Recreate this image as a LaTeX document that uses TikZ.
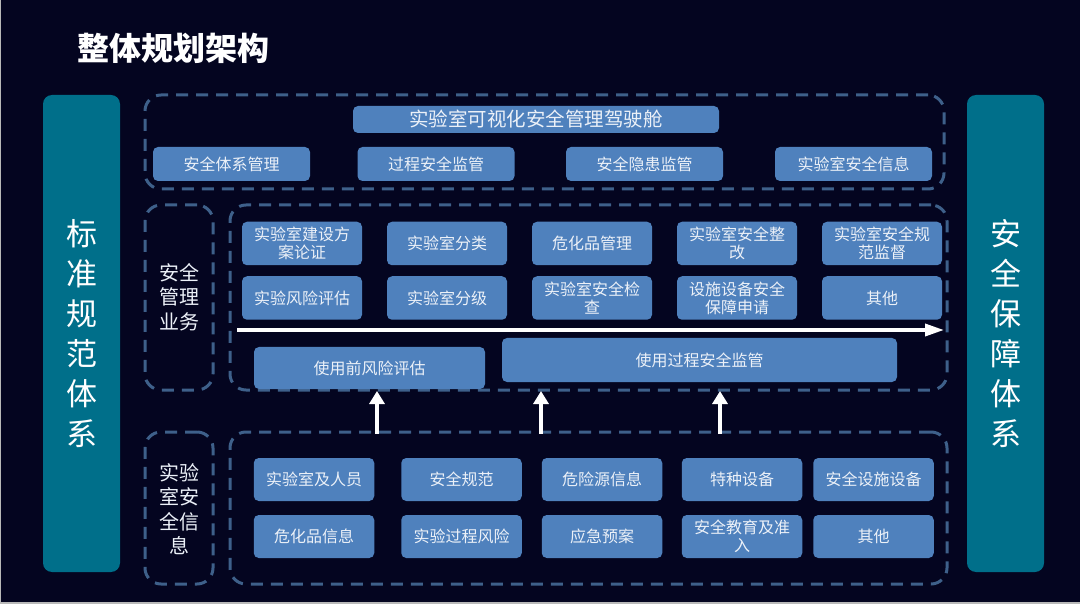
\documentclass[tikz,border=0pt]{standalone}
\usepackage{fontspec}
\setmainfont{Noto Sans CJK SC}
\usetikzlibrary{arrows.meta}
\definecolor{bgc}{RGB}{4,5,32}
\definecolor{tealc}{RGB}{0,111,138}
\definecolor{boxc}{RGB}{79,129,189}
\definecolor{dashc}{RGB}{62,96,138}
\definecolor{txtc}{RGB}{236,241,248}
\tikzset{
  dashbox/.style={draw=dashc, line width=3pt, dash pattern=on 12pt off 8pt, rounded corners=16pt, inner sep=0pt},
  bbox/.style={fill=boxc, rounded corners=5pt, inner sep=0pt, text=txtc, align=center, font=\fontsize{16}{18}\selectfont},
  sidebar/.style={fill=tealc, rounded corners=9pt, inner sep=0pt, text=white, align=center, font=\fontsize{31}{40}\selectfont, minimum width=77pt, minimum height=477pt},
  lbl/.style={text=txtc, align=center, inner sep=0pt, font=\fontsize{20}{24.5}\selectfont},
  wharrow/.style={draw=white, line width=3.5pt, -{Triangle[length=19pt,width=12pt]}},
  uparrow/.style={draw=white, line width=4.5pt, -{Triangle[length=13pt,width=15pt]}}
}
\begin{document}
\begin{tikzpicture}[x=1pt,y=-1pt]
\useasboundingbox (0,0) rectangle (1080,604);
\fill[bgc] (0,0) rectangle (1080,604);
\fill[gray!55] (0,0) rectangle (1.3,604);
\fill[gray!55] (0,601.8) rectangle (1080,604);

% title
\node[text=white, inner sep=0pt, anchor=west, font=\fontsize{32}{36}\selectfont\bfseries] (title) at (77,48) {整体规划架构};

% side bars
\node[sidebar] (left) at (81.5,333.5) {标\\准\\规\\范\\体\\系};
\node[sidebar] (right) at (1005.5,333.5) {安\\全\\保\\障\\体\\系};

% dashed groups
\node[dashbox, minimum width=799pt, minimum height=94pt] (top) at (544.5,142) {};
\node[dashbox, minimum width=68pt, minimum height=185pt] (lab1) at (179,297.5) {};
\node[dashbox, minimum width=717pt, minimum height=185pt] (mid) at (588.5,297.5) {};
\node[dashbox, minimum width=68pt, minimum height=152pt] (lab2) at (179,508) {};
\node[dashbox, minimum width=717pt, minimum height=152pt] (bot) at (588.5,508) {};

\node[lbl] (lab1t) at (179,297) {安全\\管理\\业务};
\node[lbl] (lab2t) at (179,509) {实验\\室安\\全信\\息};

% top group
\node[bbox, minimum width=366pt, minimum height=27pt, font=\fontsize{19.5}{22}\selectfont] (cockpit) at (536,119.5) {实验室可视化安全管理驾驶舱};
\tikzset{tb/.style={bbox, minimum width=157pt, minimum height=34pt}}
\node[tb] (t1) at (231.5,164) {安全体系管理};
\node[tb] (t2) at (436,164) {过程安全监管};
\node[tb] (t3) at (644.5,164) {安全隐患监管};
\node[tb] (t4) at (853.5,164) {实验室安全信息};

% middle group
\tikzset{mb/.style={bbox, minimum width=120pt, minimum height=43.5pt}}
\node[mb] (m11) at (302,243.5) {实验室建设方\\案论证};
\node[mb] (m12) at (447,243.5) {实验室分类};
\node[mb] (m13) at (592,243.5) {危化品管理};
\node[mb] (m14) at (737,243.5) {实验室安全整\\改};
\node[mb] (m15) at (882,243.5) {实验室安全规\\范监督};
\node[mb] (m21) at (302,298) {实验风险评估};
\node[mb] (m22) at (447,298) {实验室分级};
\node[mb] (m23) at (592,298) {实验室安全检\\查};
\node[mb] (m24) at (737,298) {设施设备安全\\保障申请};
\node[mb] (m25) at (882,298) {其他};

\coordinate (hs) at (237,330);
\coordinate (he) at (944,330);
\draw[wharrow] (hs) -- (he);

\node[bbox, minimum width=231pt, minimum height=42pt] (pre) at (369.5,368) {使用前风险评估};
\node[bbox, minimum width=395pt, minimum height=44pt] (use) at (699.5,360) {使用过程安全监管};

% bottom group
\tikzset{lb/.style={bbox, minimum width=120.5pt, minimum height=43pt}}
\node[lb] (b11) at (314,479.5) {实验室及人员};
\node[lb] (b12) at (461.5,479.5) {安全规范};
\node[lb] (b13) at (602,479.5) {危险源信息};
\node[lb] (b14) at (742,479.5) {特种设备};
\node[lb] (b15) at (873.5,479.5) {安全设施设备};
\node[lb] (b21) at (314,536.5) {危化品信息};
\node[lb] (b22) at (461.5,536.5) {实验过程风险};
\node[lb] (b23) at (602,536.5) {应急预案};
\node[lb] (b24) at (742,536.5) {安全教育及准\\入};
\node[lb] (b25) at (873.5,536.5) {其他};

% up arrows
\coordinate (u1s) at (377,433.5);
\coordinate (u1e) at (377,391);
\coordinate (u2s) at (541,433.5);
\coordinate (u2e) at (541,391);
\coordinate (u3s) at (720,433.5);
\coordinate (u3e) at (720,391);
\draw[uparrow] (u1s) -- (u1e);
\draw[uparrow] (u2s) -- (u2e);
\draw[uparrow] (u3s) -- (u3e);
\end{tikzpicture}
\end{document}
